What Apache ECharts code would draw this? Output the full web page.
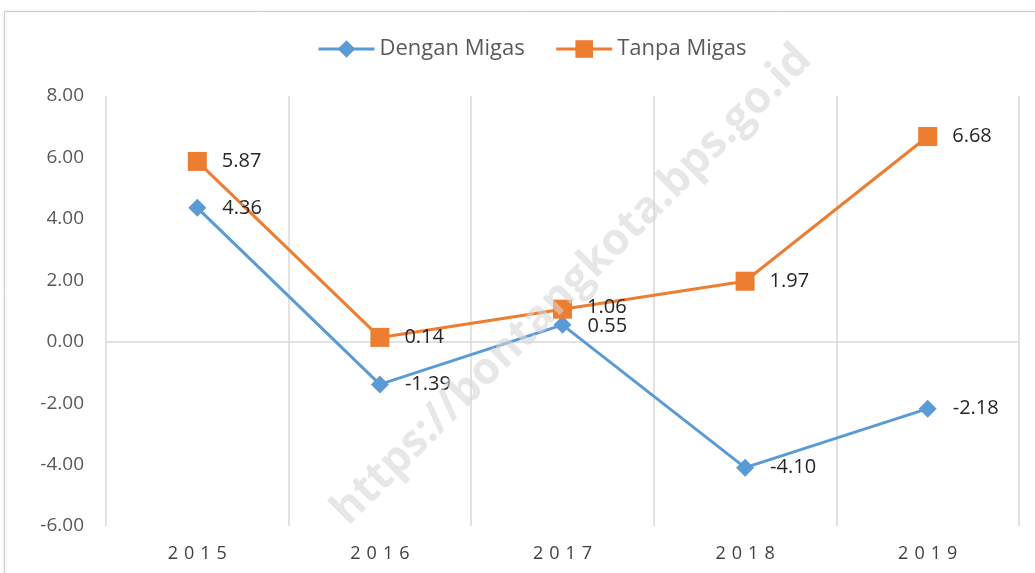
<!DOCTYPE html>
<html>
<head>
    <meta charset="utf-8">
    <title>Dengan Migas / Tanpa Migas</title>
    <script src="https://cdn.jsdelivr.net/npm/echarts@6/dist/echarts.min.js"></script>
    <style>
        html, body { margin: 0; padding: 0; background: #fff; }
        #chart { width: 1035px; height: 573px; }
    </style>
</head>
<body>
<div id="chart"></div>
<script type="text/javascript">
    // data
    var years = ['2015', '2016', '2017', '2018', '2019'];
    var denganMigas = [4.36, -1.39, 0.55, -4.10, -2.18];
    var tanpaMigas = [5.87, 0.14, 1.06, 1.97, 6.68];

    var myChart = echarts.init(document.getElementById('chart'));
    var font = '"Open Sans", sans-serif';

    myChart.setOption({
        animation: false,
        textStyle: { fontFamily: font },
        graphic: [
            {   // frame round the chart
                type: 'rect', z: -10,
                shape: { x: 4.5, y: 11.5, width: 1040, height: 580 },
                style: { fill: '#fff', stroke: '#d0d0d0', lineWidth: 1,
                         shadowColor: 'rgba(0,0,0,0.15)', shadowBlur: 3 }
            },
            {   // watermark
                type: 'text', z: 100,
                x: 572, y: 285, rotation: Math.PI / 4,
                style: {
                    text: 'https://bontangkota.bps.go.id',
                    fill: 'rgba(215,215,215,0.6)',
                    font: 'bold 44px "Open Sans", sans-serif',
                    align: 'center', verticalAlign: 'middle'
                }
            }
        ],
        legend: {
            top: 33, left: 312,
            itemWidth: 56, itemHeight: 22, itemGap: 30,
            lineStyle: { width: 3 },
            textStyle: { color: '#595959', fontSize: 22, fontFamily: font },
            data: ['Dengan Migas', 'Tanpa Migas']
        },
        grid: { left: 106, right: 16, top: 96, bottom: 47 },
        xAxis: {
            type: 'category',
            data: years,
            boundaryGap: true,
            axisLine: { onZero: true, lineStyle: { color: '#d9d9d9', width: 1.5 } },
            axisTick: { show: false },
            axisLabel: { color: '#404040', fontSize: 18, margin: 19,
                         formatter: function (v) { return v.split('').join('\u2004'); } },
            splitLine: { show: true, lineStyle: { color: '#d9d9d9', width: 1.5 } }
        },
        yAxis: {
            type: 'value',
            min: -6, max: 8, interval: 2,
            axisLine: { show: false },
            axisTick: { show: false },
            axisLabel: { color: '#595959', fontSize: 19, margin: 22,
                         formatter: function (v) { return v.toFixed(2); } },
            splitLine: { show: false }
        },
        series: [
            {
                name: 'Dengan Migas',
                type: 'line',
                data: denganMigas,
                symbol: 'diamond',
                symbolSize: 18,
                itemStyle: { color: '#5B9BD5' },
                lineStyle: { color: '#5B9BD5', width: 3 },
                label: {
                    show: true, position: 'right', distance: 16,
                    color: '#262626', fontSize: 20,
                    formatter: function (p) { return p.value.toFixed(2); }
                },
                labelLayout: function (p) {
                    return p.dataIndex === 2 ? { dy: 1 } : {};
                }
            },
            {
                name: 'Tanpa Migas',
                type: 'line',
                data: tanpaMigas,
                symbol: 'rect',
                symbolSize: 19,
                itemStyle: { color: '#ED7D31' },
                lineStyle: { color: '#ED7D31', width: 3 },
                label: {
                    show: true, position: 'right', distance: 15,
                    color: '#262626', fontSize: 20,
                    formatter: function (p) { return p.value.toFixed(2); }
                },
                labelLayout: function (p) {
                    return p.dataIndex === 2 ? { dy: -2 } : {};
                }
            }
        ]
    });
</script>
</body>
</html>
